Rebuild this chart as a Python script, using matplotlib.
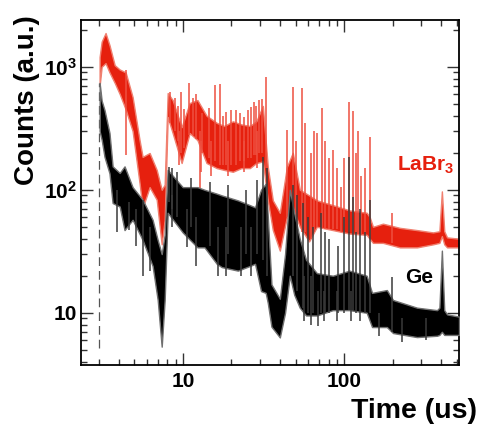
import numpy as np
import matplotlib
matplotlib.use('Agg')
import matplotlib.pyplot as plt
from matplotlib.ticker import FixedLocator, FixedFormatter, LogLocator, NullFormatter

# ---------------- data ----------------
# LaBr3 band: time (us), lower / upper envelope of the noisy spectrum
labr_t  = [3.04, 3.13, 3.31, 3.50, 3.77, 4.05, 4.41, 4.87, 5.38, 5.62, 6.21, 6.87,
           7.38, 7.70, 8.04, 8.63, 9.81, 11.0, 12.3, 14.0, 16.2, 18.0, 20.4, 23.0,
           26.0, 28.5, 31.3, 33.6, 36.1, 39.9, 44.1, 48.0, 53.1, 60.6, 67.7, 85.1,
           108, 138, 144, 151, 174, 222, 283, 356, 390, 404, 418, 435, 516]
labr_lo = [700, 1000, 1070, 900, 740, 600, 450, 300, 113, 71, 105, 83,
           36, 57, 390, 289, 165, 289, 253, 165, 150, 145, 140, 150,
           150, 165, 170, 82, 47, 32, 60, 71, 50, 38, 50, 47,
           44, 43, 40, 37, 37, 34, 34, 36, 37, 42, 36, 34, 34]
labr_hi = [1200, 1600, 1880, 1500, 1030, 950, 900, 567, 253, 185, 199, 145,
           100, 110, 611, 536, 323, 507, 536, 400, 350, 330, 360, 340,
           330, 360, 480, 153, 82, 65, 153, 200, 100, 90, 82, 75,
           68, 65, 60, 50, 53, 49, 47, 45, 46, 97, 46, 41, 40]
# narrow spikes / dips on the LaBr3 spectrum
labr_spike_t  = [4.41, 8.3, 8.9, 9.3, 9.4, 9.7, 10.2, 10.9, 11.5, 12.0, 12.7, 13.0,
                 13.2, 14.5, 15.0, 15.8, 16.9, 17.8, 18.6, 19.0, 19.8, 21.3, 22.5,
                 23.8, 24.0, 25.2, 26.5, 27.5, 28.3, 29.0, 29.5, 30.8, 32.6,
                 44.0, 48.0, 50.5, 54.6, 57.0, 62.0, 65.0, 67.7, 72.5, 76.0, 80.0,
                 85.0, 90.0, 96.0, 100, 107, 113, 118, 122, 128, 135, 144, 198]
labr_spike_lo = [191, 350, 300, 250, 160, 200, 220, 280, 280, 260, 88, 140,
                 200, 180, 130, 170, 160, 160, 160, 130, 160, 160, 170,
                 170, 140, 180, 180, 190, 190, 150, 200, 200, 150,
                 60, 70, 45, 45, 45, 40, 45, 50, 50, 48, 48,
                 48, 48, 46, 45, 45, 44, 44, 44, 43, 43, 40, 37]
labr_spike_hi = [940, 623, 560, 480, 300, 623, 450, 736, 560, 600, 300, 250,
                 420, 460, 250, 710, 722, 400, 430, 250, 445, 445, 420,
                 390, 250, 445, 470, 516, 480, 300, 536, 550, 824,
                 305, 690, 250, 668, 350, 200, 300, 289, 460, 250, 180,
                 210, 150, 105, 180, 520, 440, 200, 300, 130, 150, 268, 65]

# Ge band
ge_t  = [3.04, 3.13, 3.26, 3.50, 3.66, 4.05, 4.34, 4.87, 5.62, 6.48, 6.97, 7.38,
         7.70, 8.04, 9.96, 12.3, 13.6, 16.2, 17.4, 21.9, 26.0, 28.0, 30.5, 32.6,
         33.6, 35.4, 39.9, 43.0, 46.0, 49.0, 53.0, 58.0, 67.7, 85.1, 108, 138,
         149, 184, 201, 283, 377, 390, 404, 418, 435, 516]
ge_lo = [300, 255, 185, 136, 78, 73, 47, 57, 39, 24, 12.7, 5.3,
         12.7, 65, 45, 34, 34, 25, 23.5, 22, 24, 25, 15, 14.5,
         12, 7.7, 6.3, 10, 20, 14, 11, 9.5, 9.5, 10.5, 10.5, 10,
         7.65, 7.65, 6.84, 6.34, 6.5, 6.6, 7.0, 6.6, 6.6, 6.6]
ge_hi = [740, 530, 445, 290, 155, 137, 155, 105, 83, 57, 39, 30,
         43, 145, 105, 105, 100, 93, 90, 82, 75, 72, 100, 112,
         60, 17, 13, 30, 100, 65, 40, 27, 21, 20, 22, 20,
         14.5, 15.3, 12.7, 11, 10.5, 11, 32, 10.5, 9.7, 9.3]
ge_spike_t  = [3.9, 4.6, 5.1, 5.62, 6.2, 8.2, 8.5, 8.6, 9.2, 10.6, 11.2, 12.1,
               14.8, 16.5, 18.5, 19.0, 23.0, 24.5, 26.5, 29.0, 31.3, 33.0,
               48.5, 51.0, 55.4, 56.0, 60.0, 62.0, 64.0, 69.0, 71.7, 75.0, 76.0,
               80.0, 90.0, 92.0, 100, 107, 110, 113, 118, 125, 135, 144, 165,
               198, 230, 320]
ge_spike_lo = [45, 47, 35, 20, 22, 80, 50, 70, 60, 34, 50, 24,
               35, 20, 20, 30, 20, 30, 20, 30, 27, 20,
               20, 15, 11, 8.5, 10, 8.0, 10, 7.8, 10, 8.5, 10,
               10, 8.5, 10, 10, 10.5, 8.5, 10.5, 10, 8.5, 10, 10, 6.5,
               7, 5.8, 6.0]
ge_spike_hi = [100, 80, 70, 83, 50, 153, 90, 150, 140, 70, 125, 60,
               115, 50, 50, 110, 50, 100, 50, 120, 185, 150,
               110, 90, 78, 20, 60, 20, 50, 15, 65, 15, 45,
               40, 15, 35, 60, 185, 15, 88, 45, 70, 45, 82, 10,
               19.5, 9, 9]

# first (start) bin of the spectra
start_t, start_lo, start_hi = 3.0, 5.2, 740

x_ticks, x_labels = [10, 100], ['10', '100']
y_ticks = [10, 100, 1000]
y_labels = ['10', r'$\mathbf{10^{2}}$', r'$\mathbf{10^{3}}$']

# ---------------- figure ----------------
plt.rcParams['font.family'] = ['Liberation Sans', 'DejaVu Sans']
plt.rcParams['font.weight'] = 'bold'
plt.rcParams['mathtext.fontset'] = 'custom'
plt.rcParams['mathtext.bf'] = 'Liberation Sans:bold'
plt.rcParams['mathtext.rm'] = 'Liberation Sans:bold'

fig = plt.figure(figsize=(4.81, 4.25), dpi=100)
ax = fig.add_axes([81/481, 1-365/425, (459-81)/481, (365-20)/425])

red = '#e6200e'
ax.fill_between(labr_t, labr_lo, labr_hi, color=red, lw=1.0, edgecolor='#f08070', zorder=2)
ax.vlines(labr_spike_t, labr_spike_lo, labr_spike_hi, color='#ee5040', lw=1.1, zorder=2)

ax.vlines([start_t], [start_lo], [start_hi], color='#555555', lw=0.9,
          linestyles=[(0, (7, 4))], zorder=3)

ax.fill_between(ge_t, ge_lo, ge_hi, color='black', lw=1.0, edgecolor='#707070', zorder=4)
ax.vlines(ge_spike_t, ge_spike_lo, ge_spike_hi, color='#3a3a3a', lw=1.1, zorder=4)

ax.set_xscale('log')
ax.set_yscale('log')
ax.set_xlim(2.33, 516)
ax.set_ylim(3.76, 2400)

ax.xaxis.set_major_locator(FixedLocator(x_ticks))
ax.xaxis.set_major_formatter(FixedFormatter(x_labels))
ax.yaxis.set_major_locator(FixedLocator(y_ticks))
ax.yaxis.set_major_formatter(FixedFormatter(y_labels))
ax.xaxis.set_minor_locator(LogLocator(base=10, subs=np.arange(2, 10), numticks=20))
ax.yaxis.set_minor_locator(LogLocator(base=10, subs=np.arange(2, 10), numticks=20))
ax.xaxis.set_minor_formatter(NullFormatter())
ax.yaxis.set_minor_formatter(NullFormatter())

ax.tick_params(which='both', direction='in', top=True, right=True, width=1.0, color='#333333')
ax.tick_params(which='major', length=8.5)
ax.tick_params(which='minor', length=4.5)
ax.tick_params(axis='x', which='major', labelsize=15, pad=5)
ax.tick_params(axis='y', which='major', labelsize=15, pad=3)
for s in ax.spines.values():
    s.set_linewidth(1.3)

fig.text(27/481, 1-15/425, 'Counts (a.u.)', rotation=90, ha='center', va='top',
         fontsize=20, fontweight='bold')
fig.text(477/481, 1-418/425, 'Time (us)', ha='right', va='baseline',
         fontsize=20.5, fontweight='bold')

ax.text(212, 145, r'LaBr$_\mathbf{3}$', color=red, fontsize=15, fontweight='bold',
        ha='left', va='baseline', zorder=6)
ax.text(238, 17.4, 'Ge', color='black', fontsize=15, fontweight='bold',
        ha='left', va='baseline', zorder=6)

fig.savefig('out.png', dpi=100)
